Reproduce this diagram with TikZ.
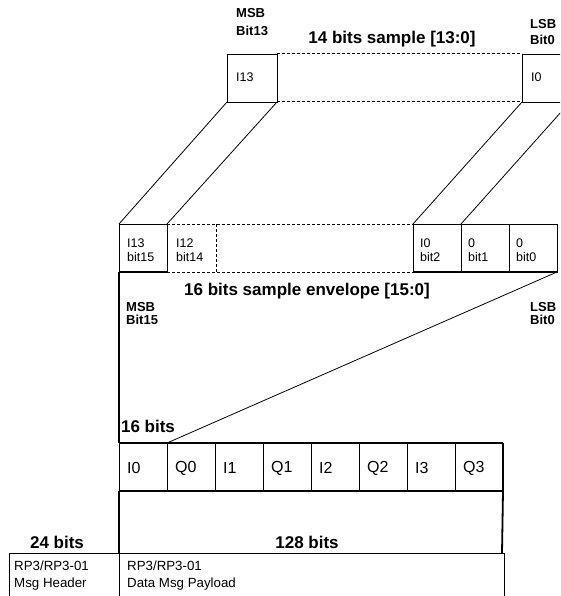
\documentclass[tikz,border=0pt]{standalone}
\usepackage{fontspec}
\setmainfont{Liberation Sans}
\begin{document}
\begin{tikzpicture}[x=1pt,y=-1pt,
  cell/.style={draw, line width=0.9pt, minimum height=48, inner sep=0, outer sep=0, anchor=north west},
  gapcell/.style={minimum height=48, inner sep=0, outer sep=0, anchor=north west},
  dashline/.style={line width=1pt, dash pattern=on 3pt off 2pt},
  thickline/.style={line width=1.8pt},
  conn/.style={line width=0.8pt},
  lbl/.style={font=\fontsize{13}{17.5}\selectfont\bfseries, inner sep=0, align=left},
  lbltight/.style={font=\fontsize{13}{13}\selectfont\bfseries, inner sep=0, align=left},
  big/.style={font=\fontsize{17}{20}\selectfont\bfseries, inner sep=0},
  small/.style={font=\fontsize{12.5}{14.5}\selectfont, inner sep=0, align=left, anchor=west},
  iq/.style={font=\fontsize{16}{18}\selectfont, inner sep=0, anchor=west},
  msg/.style={font=\fontsize{13.3}{17}\selectfont, inner sep=0, align=left, anchor=west},
]
\useasboundingbox (0,0) rectangle (560,596);
\clip (0,0) rectangle (560,596);

% ---- top row: 14 bits sample
\node[cell, minimum width=50] (t13) at (227,54) {};
\node[gapcell, minimum width=245] (tmid) at (277,54) {};
\node[cell, minimum width=48] (t0) at (522,54) {};
\draw[dashline] (tmid.north west) -- (tmid.north east);
\draw[dashline] (tmid.south west) -- (tmid.south east);
\node[small] (t13txt) at (236,77) {I13};
\node[small] (t0txt) at (531,77) {I0};
\node[lbl, anchor=west] (msbtop) at (236,22) {MSB\\Bit13};
\node[lbltight, font=\fontsize{13}{15.5}\selectfont\bfseries, anchor=west] (lsbtop) at (530,32) {LSB\\Bit0};
\node[big] (title14) at (392,39) {14 bits sample [13:0]};

% ---- second row: 16 bits envelope
\node[cell, minimum width=48] (e15) at (119,224) {};
\node[gapcell, minimum width=49] (e14) at (167,224) {};
\node[gapcell, minimum width=197] (emid) at (216,224) {};
\node[cell, minimum width=48] (e2) at (413,224) {};
\node[cell, minimum width=48] (e1) at (461,224) {};
\node[cell, minimum width=48] (e0) at (509,224) {};
\draw[dashline] (e14.north west) -- (emid.north east);
\draw[dashline] (e14.south west) -- (emid.south east);
\draw[dashline] (e14.north east) -- (e14.south east);
\draw[thickline] (e15.south west) -- (e15.south east);
\draw[thickline] (e2.south west) -- (e0.south east);
\node[small] (e15txt) at (127,250) {I13\\bit15};
\node[small] (e14txt) at (176,250) {I12\\bit14};
\node[small] (e2txt) at (420,250) {I0\\bit2};
\node[small] (e1txt) at (468,250) {0\\bit1};
\node[small] (e0txt) at (516,250) {0\\bit0};
\node[big] (title16) at (307,291) {16 bits sample envelope [15:0]};
\node[lbltight, anchor=west] (msbenv) at (126,314) {MSB\\Bit15};
\node[lbltight, anchor=west] (lsbenv) at (530,314) {LSB\\Bit0};

% connectors top -> envelope
\draw[conn] (t13.south west) -- (e15.north west);
\draw[conn] (t13.south east) -- (e15.north east);
\draw[conn] (t0.south west) -- (e2.north west);
\draw[conn] (t0.south east) -- (e1.north west);

% ---- third row: IQ samples
\foreach \i/\t in {0/I0,1/Q0,2/I1,3/Q1,4/I2,5/Q2,6/I3,7/Q3}{
  \node[cell, line width=0.7pt, minimum width=48] (r\i) at ({119+48*\i},443) {};
  \node[iq] (r\i txt) at ({127+48*\i},468) {\t};
}
\draw[thickline] (r0.north west) -- (r7.north east);
\draw[thickline] (r0.south west) -- (r7.south east);
\draw[thickline] (r7.north east) -- (r7.south east);
\node[big] (bits16) at (148,426) {16 bits};

% connectors envelope -> IQ row
\draw[thickline] (e15.south west) -- (r0.north west);
\draw[conn] (e0.south east) -- (r1.north west);

% ---- 128 bits region
\coordinate (p128bl) at (119,553);
\coordinate (p128br) at (502,553);
\draw[thickline] (r0.south west) -- (p128bl);
\draw[thickline] (r7.south east) -- (p128br);
\node[big] (bits128) at (307,542) {128 bits};
\node[big] (bits24) at (57,542) {24 bits};

% ---- bottom boxes
\node[draw, line width=0.8pt, minimum width=110, minimum height=60, inner sep=0, outer sep=0, anchor=north west] (hdr) at (9,553) {};
\node[draw, line width=0.8pt, minimum width=385, minimum height=60, inner sep=0, outer sep=0, anchor=north west] (pay) at (119,553) {};
\node[msg] (hdrtxt) at (14,576) {RP3/RP3-01\\Msg Header};
\node[msg] (paytxt) at (127,576) {RP3/RP3-01\\Data Msg Payload};
\end{tikzpicture}
\end{document}
